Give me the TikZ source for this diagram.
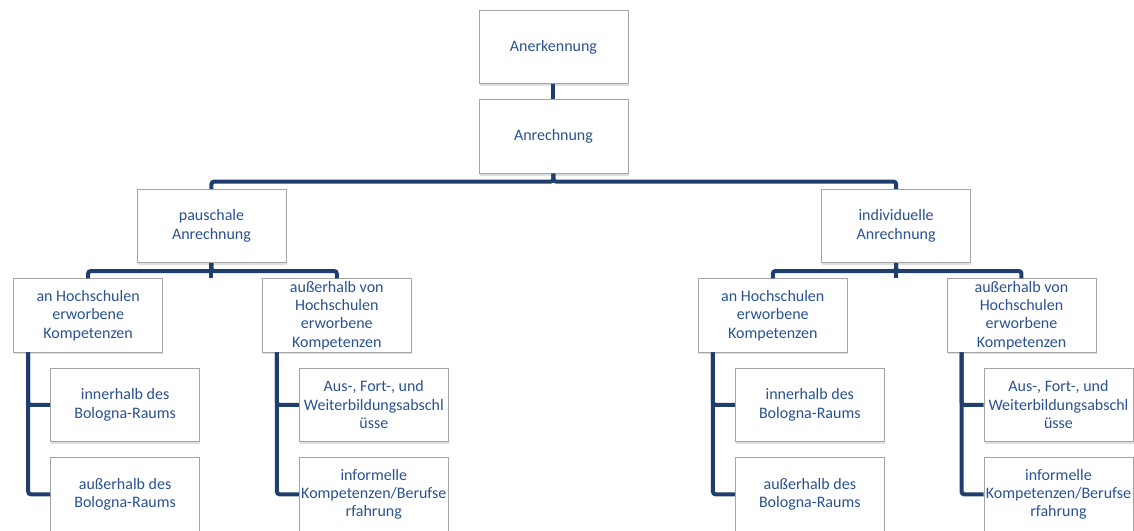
\documentclass[tikz,border=0pt]{standalone}
\usepackage{fontspec}
\setmainfont{Carlito}
\usetikzlibrary{positioning,calc,shadows}
\definecolor{orgblue}{RGB}{30,62,110}
\definecolor{orgtext}{RGB}{42,82,145}
\definecolor{orgframe}{RGB}{165,165,165}
\tikzset{
  box/.style={draw=orgframe, line width=0.6pt, fill=white, align=center, minimum width=111.75pt, minimum height=55pt, inner xsep=0pt, inner ysep=1pt, text=orgtext, font=\fontsize{12}{13.8}\selectfont, drop shadow={opacity=0.25, shadow xshift=0.6pt, shadow yshift=-1.8pt}},
  link/.style={line width=3pt, orgblue, rounded corners=2pt},
  stub/.style={line width=3pt, orgblue}
}

\begin{document}
\begin{tikzpicture}[node distance=11.5pt]
    \useasboundingbox (0,0) rectangle (850.5pt,-398.25pt);
    \node[box] (anerk) at (415.1pt,-35.25pt) {Anerkennung};
    \node[box, below=of anerk] (anr) {Anrechnung};
    \node[box, below=of anr, xshift=-256.5pt] (pau) {pauschale\\Anrechnung};
    \node[box, below=of anr, xshift=257pt] (ind) {individuelle\\Anrechnung};
    \node[box, below=of pau, xshift=-92.5pt] (pa1) {an Hochschulen\\erworbene\\Kompetenzen};
    \node[box, below=of pau, xshift=94pt] (pa2) {außerhalb von\\Hochschulen\\erworbene\\Kompetenzen};
    \node[box, below=of ind, xshift=-92.5pt] (in1) {an Hochschulen\\erworbene\\Kompetenzen};
    \node[box, below=of ind, xshift=94pt] (in2) {außerhalb von\\Hochschulen\\erworbene\\Kompetenzen};
    \node[box, below=of pa1, xshift=27.75pt] (pa1a) {innerhalb des\\Bologna-Raums};
    \node[box, below=of pa1a] (pa1b) {außerhalb des\\Bologna-Raums};
    \node[box, below=of pa2, xshift=27.75pt] (pa2a) {Aus-, Fort-, und\\Weiterbildungsabschl\\üsse};
    \node[box, below=of pa2a] (pa2b) {informelle\\Kompetenzen/Berufse\\rfahrung};
    \node[box, below=of in1, xshift=27.75pt] (in1a) {innerhalb des\\Bologna-Raums};
    \node[box, below=of in1a] (in1b) {außerhalb des\\Bologna-Raums};
    \node[box, below=of in2, xshift=27.75pt] (in2a) {Aus-, Fort-, und\\Weiterbildungsabschl\\üsse};
    \node[box, below=of in2a] (in2b) {informelle\\Kompetenzen/Berufse\\rfahrung};
    \draw[stub] (anerk) -- (anr);
    \draw[link] (anr.south) -- ++(0,-6pt) -| (pau.north);
    \draw[link] (anr.south) -- ++(0,-6pt) -| (ind.north);
    \foreach \p/\a/\b in {pau/pa1/pa2,ind/in1/in2}{
      \draw[stub] (\p.south) -- (\p.south |- \a.north);
      \draw[link] (\p.south) -- ++(0,-6pt) -| (\a.north);
      \draw[link] (\p.south) -- ++(0,-6pt) -| (\b.north);
    }
    \foreach \a in {pa1,pa2,in1,in2}{
      \draw[link] ($(\a.south west)+(11.25pt,0)$) |- (\a a.west);
      \draw[link] ($(\a.south west)+(11.25pt,0)$) |- (\a b.west);
    }
  \end{tikzpicture}
\end{document}
